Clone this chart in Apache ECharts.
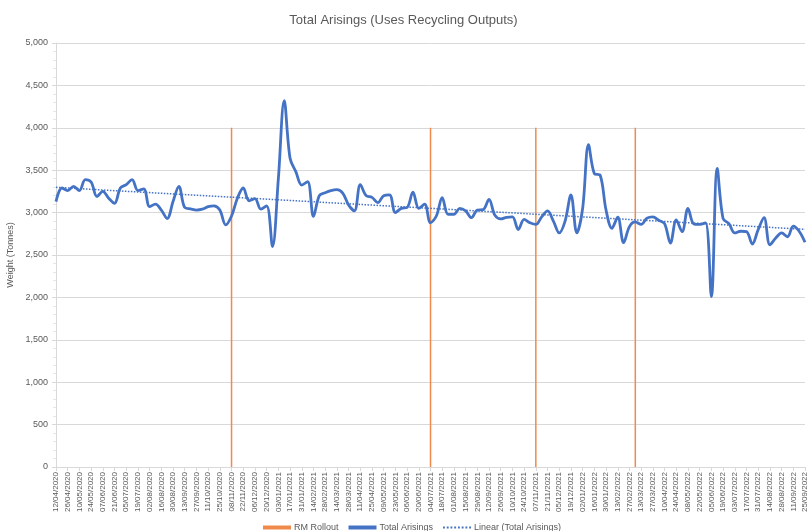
<!DOCTYPE html>
<html>
<head>
<meta charset="utf-8">
<script src="https://cdn.jsdelivr.net/npm/echarts@6/dist/echarts.min.js"></script>
<style>
  html, body { margin: 0; padding: 0; background: #fff; }
  #chart { width: 807px; height: 531px; }
</style>
</head>
<body>
<div id="chart"></div>
<script>
// weekly categories, first week 12/04/2020
var startDate = new Date(2020, 3, 12);
var weekCount = 129;

// Total Arisings (tonnes), one value per week
var totalArisings = [
  3130, 3290, 3260, 3310, 3260, 3390, 3360, 3190, 3250, 3170,
  3110, 3290, 3330, 3390, 3260, 3280, 3070, 3100, 3030, 2930,
  3130, 3310, 3060, 3045, 3030, 3040, 3070, 3080, 3030, 2855,
  2960, 3170, 3290, 3140, 3165, 3040, 3080, 2600, 3400, 4320,
  3640, 3480, 3325, 3365, 2955, 3200, 3235, 3260, 3270, 3230,
  3090, 3020, 3330, 3200, 3180, 3117, 3200, 3210, 3000, 3050,
  3060, 3240, 3050, 3100, 2880, 2960, 3175, 2980, 2980, 3050,
  3020, 2940, 3030, 3035, 3155, 2970, 2925, 2945, 2950, 2800,
  2920, 2880, 2860, 2950, 3020, 2900, 2760, 2900, 3210, 2760,
  3050, 3800, 3460, 3440, 3030, 2815, 2945, 2645, 2835, 2890,
  2860, 2935, 2950, 2910, 2870, 2640, 2915, 2775, 3050, 2865,
  2860, 2880, 2010, 3520, 2930, 2870, 2760, 2780, 2775, 2630,
  2800, 2940, 2620, 2700, 2760, 2715, 2840, 2780, 2650
];

// RM rollout weeks (index into categories) and marker height
var rolloutWeeks = [30, 64, 82, 99];
var rolloutValue = 4000;

var yTicks = [0, 500, 1000, 1500, 2000, 2500, 3000, 3500, 4000, 4500, 5000];

function pad(n) { return n < 10 ? "0" + n : "" + n; }

var categories = [];
for (var i = 0; i < weekCount; i++) {
  var d = new Date(startDate.getFullYear(), startDate.getMonth(), startDate.getDate() + 7 * i);
  categories.push(pad(d.getDate()) + "/" + pad(d.getMonth() + 1) + "/" + d.getFullYear());
}

var rolloutData = categories.map(function (c, idx) {
  return rolloutWeeks.indexOf(idx) >= 0 ? rolloutValue : null;
});

// least squares trend, as Excel's linear trendline
var n = totalArisings.length, sx = 0, sy = 0, sxy = 0, sxx = 0;
totalArisings.forEach(function (v, idx) {
  sx += idx; sy += v; sxy += idx * v; sxx += idx * idx;
});
var slope = (n * sxy - sx * sy) / (n * sxx - sx * sx);
var intercept = (sy - slope * sx) / n;
var trendData = totalArisings.map(function (v, idx) { return intercept + slope * idx; });

var myChart = echarts.init(document.getElementById("chart"));
var txt = "#595959";
var font = "Liberation Sans, Arial";
// small dashed path for the trendline legend icon
var dottedIcon = "path://M0,0h2v2h-2z M4,0h2v2h-2z M8,0h2v2h-2z M12,0h2v2h-2z M16,0h2v2h-2z M20,0h2v2h-2z M24,0h2v2h-2z M28,0h2v2h-2z";
var option = {
  animation: false,
  title: {
    text: "Total Arisings (Uses Recycling Outputs)",
    left: "center",
    top: 9,
    textStyle: { fontFamily: font, fontSize: 13, fontWeight: "normal", color: txt },
  },
  legend: {
    top: 518,
    left: 258,
    itemGap: 10,
    itemWidth: 28,
    itemHeight: 4,
    textStyle: { fontFamily: font, fontSize: 9, color: txt, padding: [0, 0, 0, -2] },
    data: [
      { name: "RM Rollout", icon: "rect" },
      { name: "Total Arisings", icon: "rect", itemStyle: { color: "#4472C4" } },
      { name: "Linear (Total Arisings)", icon: dottedIcon, itemStyle: { color: "#4472C4" } },
    ],
  },
  grid: { left: 56, right: 2, top: 43, bottom: 64, outerBoundsMode: "none" },
  xAxis: {
    type: "category",
    data: categories,
    boundaryGap: false,
    axisLine: { lineStyle: { color: "#d9d9d9" } },
    axisTick: { show: true, interval: 1, length: 4, lineStyle: { color: "#d9d9d9" } },
    axisLabel: {
      interval: 1,
      rotate: 90,
      fontFamily: font,
      fontSize: 8,
      color: txt,
      margin: 5,
    },
    splitLine: { show: false },
  },
  yAxis: {
    type: "value",
    min: yTicks[0],
    max: yTicks[yTicks.length - 1],
    interval: 500,
    name: "Weight (Tonnes)",
    nameLocation: "middle",
    nameGap: 37,
    nameTextStyle: { fontFamily: font, fontSize: 9, color: txt },
    axisLine: { show: true, lineStyle: { color: "#d9d9d9" } },
    axisTick: { show: true, length: 4, lineStyle: { color: "#d9d9d9" } },
    minorTick: { show: true, splitNumber: 5, length: 3, lineStyle: { color: "#e6e6e6" } },
    axisLabel: {
      fontFamily: font,
      fontSize: 9,
      color: txt,
      margin: 8,
      formatter: function (v) { return v.toLocaleString("en-GB"); },
    },
    splitLine: { lineStyle: { color: "#d9d9d9", width: 1 } },
  },
  series: [
    {
      name: "RM Rollout",
      type: "bar",
      data: rolloutData,
      barWidth: 1.5,
      itemStyle: { color: "#F08A4B" },
      z: 1,
    },
    {
      name: "Total Arisings",
      type: "line",
      data: totalArisings,
      smooth: 0.35,
      showSymbol: false,
      symbol: "none",
      lineStyle: { color: "#4472C4", width: 2.8 },
      itemStyle: { color: "#4472C4" },
      z: 3,
    },
    {
      name: "Linear (Total Arisings)",
      type: "line",
      data: trendData,
      showSymbol: false,
      symbol: "none",
      lineStyle: { color: "#4472C4", width: 1.5, type: "dotted" },
      itemStyle: { color: "#4472C4" },
      z: 2,
    },
  ],
};
option && myChart.setOption(option);
</script>
</body>
</html>
